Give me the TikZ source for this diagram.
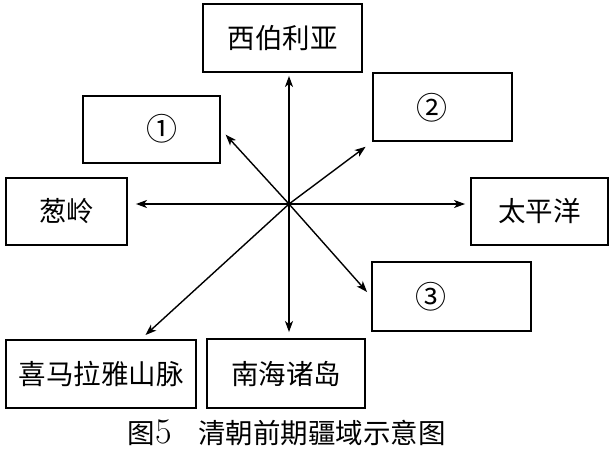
\documentclass[tikz,border=0pt]{standalone}
\usepackage{fontspec}
\newfontfamily\cjk{Noto Sans CJK SC}
\usetikzlibrary{arrows.meta,calc}
\begin{document}
\begin{tikzpicture}[x=1pt,y=-1pt,
  box/.style={draw,line width=1.9pt,inner sep=0pt,font=\cjk\fontsize{27.5}{30}\selectfont},
  num/.style={inner sep=0pt,font=\cjk\fontsize{31}{32}\selectfont},
  arr/.style={line width=1.4pt,-{Stealth[length=11pt,width=8pt,inset=3pt]}},
  captext/.style={inner sep=0pt,font=\cjk\fontsize{27.5}{30}\selectfont}]
\useasboundingbox (0,0) rectangle (613,450);
\fill[white] (0,0) rectangle (613,450);
\coordinate (c) at (289,204);
\node[box,minimum width=159pt,minimum height=68pt] (xby) at (282.5,38) {西伯利亚};
\node[box,minimum width=137pt,minimum height=67pt] (one) at (151.5,129.5) {};
\node[num] (onet) at (162,129) {①};
\node[box,minimum width=139pt,minimum height=68pt] (two) at (442.5,107) {};
\node[num] (twot) at (432,108) {②};
\node[box,minimum width=121pt,minimum height=67pt] (cl) at (66.5,211.5) {葱岭};
\node[box,minimum width=137pt,minimum height=67pt] (tpy) at (539.5,211.5) {太平洋};
\node[box,minimum width=159pt,minimum height=69pt] (three) at (451.5,296.5) {};
\node[num] (threet) at (431,297) {③};
\node[box,minimum width=190pt,minimum height=68pt] (xm) at (101,374) {喜马拉雅山脉};
\node[box,minimum width=158pt,minimum height=69pt] (nh) at (286,373.5) {南海诸岛};
\coordinate (xmtop) at ($(xm.north west)+(136,0)$);
\draw[arr,shorten >=3pt] (c) -- (xby.south -| c);
\draw[arr,shorten >=6pt] (c) -- (nh.north -| c);
\draw[arr,shorten >=8pt] (c) -- (cl.east |- c);
\draw[arr,shorten >=5pt] (c) -- (tpy.west |- c);
\draw[arr,shorten >=7pt] (c) -- (one.east);
\draw[arr,shorten >=8pt] (c) -- (two.south west);
\draw[arr,shorten >=6pt] (c) -- (three.west);
\draw[arr,shorten >=6pt] (c) -- (xmtop);
\node[captext,anchor=base east] (capn) at (172,443) {图{\rmfamily\fontsize{36}{36}\selectfont 5}};
\node[captext,anchor=base west] (capt) at (198,443) {清朝前期疆域示意图};
\end{tikzpicture}
\end{document}
